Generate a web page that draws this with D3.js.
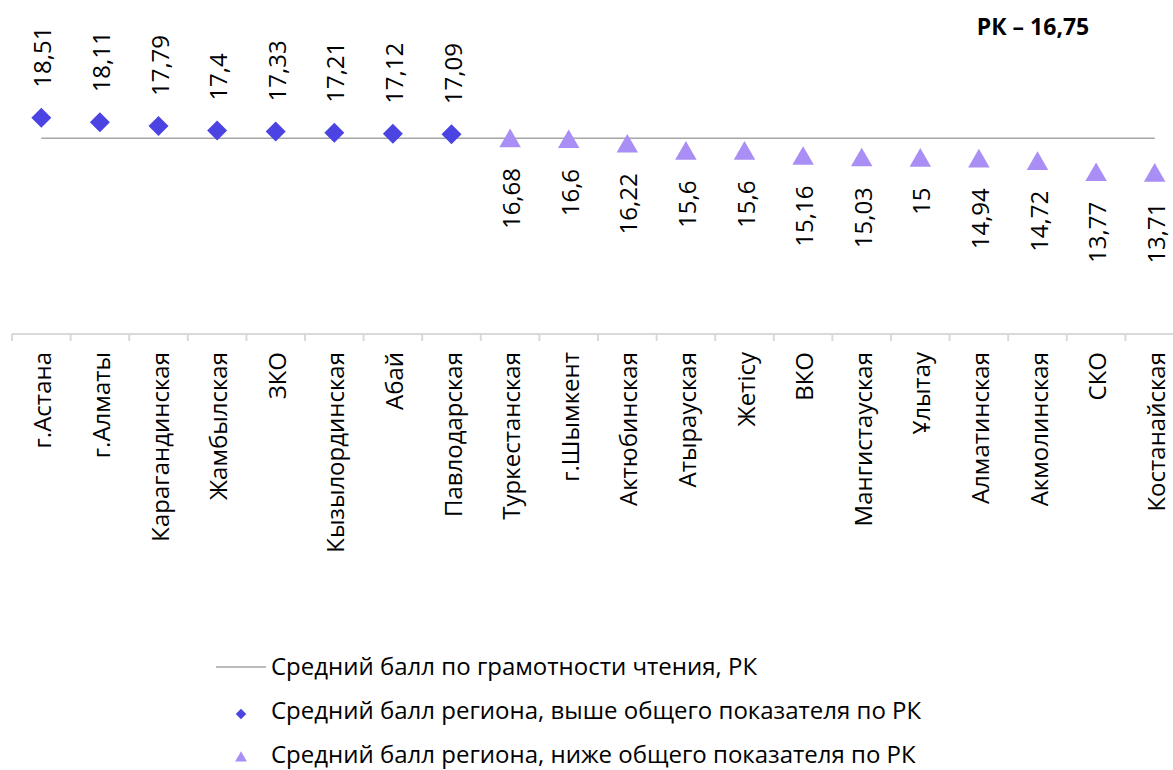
<!DOCTYPE html>
<html><head><meta charset="utf-8">
<script src="https://cdnjs.cloudflare.com/ajax/libs/d3/7.8.5/d3.min.js"></script>
<style>body{margin:0;background:#fff}svg{display:block;font-family:"Open Sans",sans-serif}</style>
</head><body><svg id="c" width="1173" height="770"></svg>
<script>
const categories = ["г.Астана","г.Алматы","Карагандинская","Жамбылская","ЗКО","Кызылординская","Абай","Павлодарская","Туркестанская","г.Шымкент","Актюбинская","Атырауская","Жетісу","ВКО","Мангистауская","Ұлытау","Алматинская","Акмолинская","СКО","Костанайская"];
const values = [18.51,18.11,17.79,17.4,17.33,17.21,17.12,17.09,16.68,16.6,16.22,15.6,15.6,15.16,15.03,15,14.94,14.72,13.77,13.71];
const valueLabels = ["18,51","18,11","17,79","17,4","17,33","17,21","17,12","17,09","16,68","16,6","16,22","15,6","15,6","15,16","15,03","15","14,94","14,72","13,77","13,71"];
const rkAverage = 16.75;
const rkLabel = "РК – 16,75";
const legendLabels = ["Средний балл по грамотности чтения, РК","Средний балл региона, выше общего показателя по РК","Средний балл региона, ниже общего показателя по РК"];

const svg = d3.select("#c");
const colAbove = "#4b44e2", colBelow = "#a98ef5", colLine = "#a6a6a6", colAxis = "#d9d9d9";
const FS = 24;
const x = d3.scaleBand().domain(categories).range([12, 1184]);
const y = d3.scaleLinear().domain([13.71, 18.51]).range([173.5, 117.7]);
const axisY = 334;

// x axis
const ax = svg.append("g").attr("transform", `translate(0,${axisY})`)
  .call(d3.axisBottom(x).tickSize(0).tickPadding(0));
ax.select(".domain").attr("stroke", colAxis).attr("stroke-width", 2).attr("d", "M12,0H1184");
ax.selectAll(".tick text").remove();
svg.append("g").selectAll("line").data(d3.range(categories.length + 1)).join("line")
  .attr("x1", i => 12 + i * x.step()).attr("x2", i => 12 + i * x.step())
  .attr("y1", axisY).attr("y2", axisY + 7).attr("stroke", colAxis).attr("stroke-width", 2);
svg.append("g").selectAll("text").data(categories).join("text")
  .attr("transform", d => `translate(${x(d) + x.bandwidth() / 2 + 10},${axisY + 18}) rotate(-90)`)
  .attr("text-anchor", "end").attr("font-size", FS).attr("fill", "#000").text(d => d);

// reference line
svg.append("line").attr("x1", x(categories[0]) + x.bandwidth() / 2)
  .attr("x2", x(categories[categories.length - 1]) + x.bandwidth() / 2)
  .attr("y1", y(rkAverage)).attr("y2", y(rkAverage)).attr("stroke", colLine).attr("stroke-width", 1.5);

const g = svg.append("g");
values.forEach((v, i) => {
  const above = v > rkAverage;
  const px = x(categories[i]) + x.bandwidth() / 2, py = y(v);
  if (above) {
    g.append("path").attr("d", d3.symbol(d3.symbolSquare, 200)())
      .attr("transform", `translate(${px},${py}) rotate(45)`).attr("fill", colAbove);
    g.append("text").attr("transform", `translate(${px + 10},${py - 30}) rotate(-90)`)
      .attr("text-anchor", "start").attr("font-size", FS).text(valueLabels[i]);
  } else {
    g.append("path").attr("d", d3.symbol(d3.symbolTriangle, 200)())
      .attr("transform", `translate(${px},${py + 2})`).attr("fill", colBelow);
    g.append("text").attr("transform", `translate(${px + 10},${py + 29}) rotate(-90)`)
      .attr("text-anchor", "end").attr("font-size", FS).text(valueLabels[i]);
  }
});

svg.append("text").attr("x", 1033).attr("y", 35).attr("text-anchor", "middle")
  .attr("font-size", 23).attr("font-weight", "bold").text(rkLabel);

// legend
const lg = svg.append("g");
lg.append("line").attr("x1", 216).attr("x2", 266).attr("y1", 667).attr("y2", 667).attr("stroke", colLine).attr("stroke-width", 1.5);
lg.append("path").attr("d", d3.symbol(d3.symbolSquare, 55)()).attr("transform", "translate(241,714) rotate(45)").attr("fill", colAbove);
lg.append("path").attr("d", d3.symbol(d3.symbolTriangle, 60)()).attr("transform", "translate(241,758)").attr("fill", colBelow);
lg.selectAll("text").data(legendLabels).join("text")
  .attr("x", 271).attr("y", (d, i) => 675 + i * 44).attr("font-size", FS).text(d => d);
</script></body></html>
